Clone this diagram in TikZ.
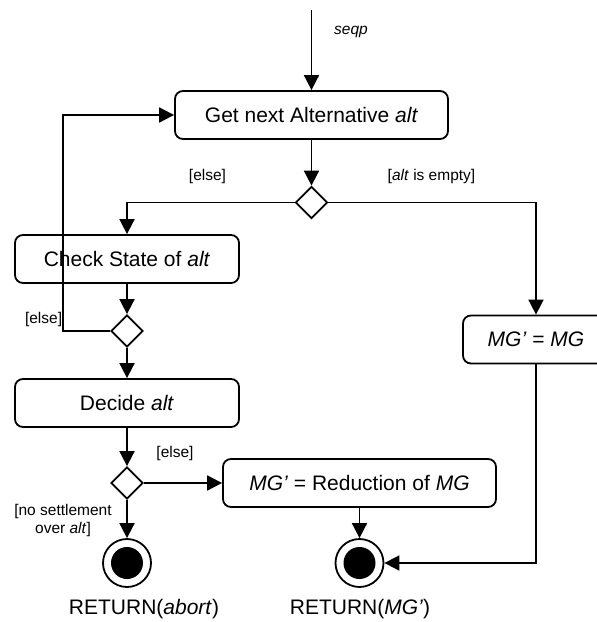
\documentclass[tikz,border=0pt]{standalone}
\usepackage{fontspec}
\setmainfont{Liberation Sans}
\usetikzlibrary{arrows.meta,shapes.geometric}
\begin{document}
\begin{tikzpicture}[x=1pt,y=-1pt,
  every path/.style={line width=1.8pt},
  act/.style={draw,rounded corners=8pt,minimum height=48pt,inner sep=0pt,
    font=\fontsize{21}{25}\selectfont},
  dec/.style={draw,diamond,aspect=1,minimum width=32pt,minimum height=32pt,inner sep=0pt},
  endnode/.style={draw,circle,minimum size=48pt,inner sep=0pt,
    path picture={\fill (path picture bounding box.center) circle (16pt);}},
  lbl/.style={inner sep=0pt,font=\fontsize{15.5}{18}\selectfont},
  rettext/.style={inner sep=0pt,anchor=base,font=\fontsize{21}{25}\selectfont},
  arr/.style={-{Triangle[length=15pt,width=15pt]}}]
\useasboundingbox (0,0) rectangle (597,622);

% activities
\node[act,minimum width=273pt] (get) at (311.5,115) {Get next Alternative \textit{alt}};
\node[act,minimum width=224pt] (check) at (127,259) {Check State of \textit{alt}};
\node[act,minimum width=224pt] (decide) at (127,403) {Decide \textit{alt}};
\node[act,minimum width=273pt] (red) at (359.5,483) {\textit{MG’} = Reduction of \textit{MG}};
\node[act,minimum width=146pt] (mg) at (536,339.5) {\textit{MG’} = \textit{MG}};

% decisions
\node[dec] (d1) at (311.5,202.5) {};
\node[dec] (d2) at (127,331) {};
\node[dec] (d3) at (127,483) {};

% final states
\node[endnode] (f1) at (127,563) {};
\node[endnode] (f2) at (359.5,563) {};

\coordinate (start) at (311.5,10);
\coordinate (loopc) at (63,115);

% flows
\draw[arr] (start) -- (get);
\draw[arr] (get) -- (d1);
\draw[arr] (d1.west) -| (check);
\draw[arr] (d1.east) -| (mg);
\draw[arr] (check) -- (d2);
\draw[arr] (d2.west) -| (loopc) -- (get.west);
\draw[arr] (d2) -- (decide);
\draw[arr] (decide) -- (d3);
\draw[arr] (d3.east) -- (red.west);
\draw[arr] (d3) -- (f1);
\draw[arr] (red) -- (f2);
\draw[arr] (mg.south) |- (f2.east);

% labels
\node[lbl] (lseqp) at (351,32) {\textit{seqp}};
\node[lbl] (lelse1) at (207.5,176) {[else]};
\node[lbl] (lempty) at (431.5,176) {[\textit{alt} is empty]};
\node[lbl,anchor=east] (lelse2) at (63,319) {[else]};
\node[lbl] (lelse3) at (175,453) {[else]};
\node[lbl,align=center] (lnoset) at (63,520) {[no settlement\\over \textit{alt}]};
\node[rettext] (rabort) at (144,614) {RETURN(\textit{abort})};
\node[rettext] (rmg) at (360,614) {RETURN(\textit{MG’})};
\end{tikzpicture}
\end{document}
